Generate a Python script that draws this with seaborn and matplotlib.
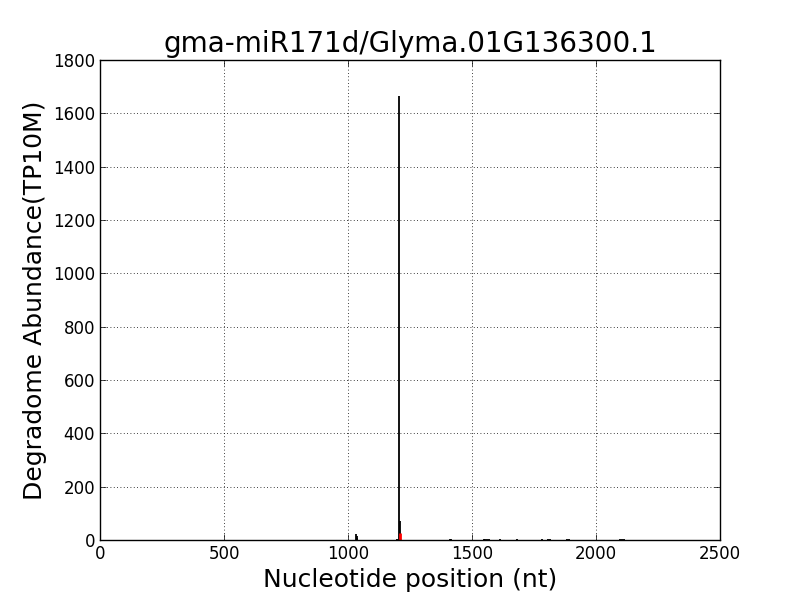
import matplotlib
matplotlib.use("Agg")
import matplotlib.pyplot as plt
import seaborn as sns

# degradome reads along the transcript (TP10M)
positions = [1032, 1035, 1037, 1198, 1206, 1208, 1411, 1415, 1548, 1553, 1560, 1570,
             1613, 1681, 1784, 1808, 1815, 1884, 1890, 2098, 2105, 2113]
abundance = [24, 14, 8, 3, 1665, 72, 3, 2, 3, 4, 3, 2,
             2, 2, 3, 3, 2, 4, 3, 4, 3, 3]
# cleavage site predicted for the miRNA
site_pos = [1208]
site_abund = [28]

title = "gma-miR171d/Glyma.01G136300.1"

sns.set_theme(style="white", rc={"axes.edgecolor": "black", "axes.linewidth": 1.0,
                                 "text.color": "black", "axes.labelcolor": "black",
                                 "xtick.direction": "in", "ytick.direction": "in",
                                 "xtick.major.size": 4, "ytick.major.size": 4,
                                 "xtick.major.width": 0.5, "ytick.major.width": 0.5,
                                 "xtick.bottom": True, "ytick.left": True,
                                 "xtick.top": True, "ytick.right": True})
plt.rcParams['font.family'] = ['DejaVu Sans']

fig = plt.figure(figsize=(8, 6), dpi=100)
ax = fig.add_axes([0.125, 0.1, 0.775, 0.8])

ax.vlines(positions, 0, abundance, color="black", lw=1.3)
ax.vlines(site_pos, 0, site_abund, color="red", lw=2.0)

ax.set_xlim(0, 2500)
ax.set_ylim(0, 1800)
ax.set_xticks(range(0, 2501, 500))
ax.set_yticks(range(0, 1801, 200))
ax.grid(True, color="black", linestyle=(0, (1, 3)), linewidth=0.6)
ax.tick_params(labelsize=12, colors="black")
for s in ax.spines.values():
    s.set_visible(True)
    s.set_color("black")

ax.set_title(title, fontsize=20)
ax.set_xlabel("Nucleotide position (nt)", fontsize=18)
ax.set_ylabel("Degradome Abundance(TP10M)", fontsize=18)

fig.savefig("out.png", dpi=100)
